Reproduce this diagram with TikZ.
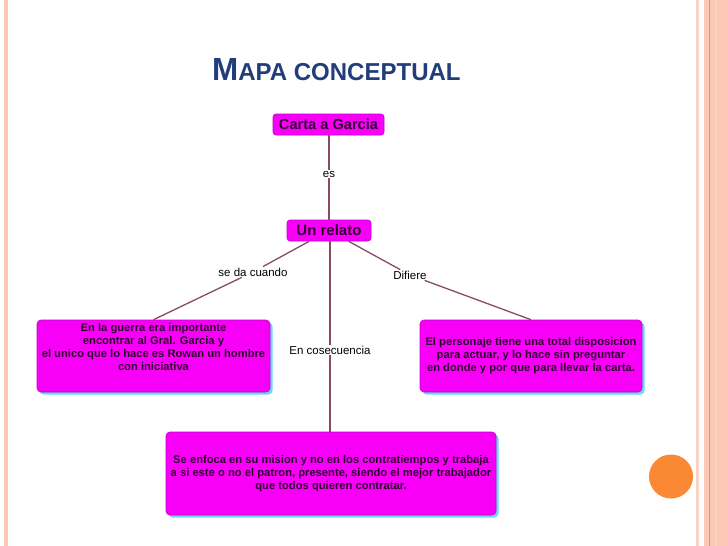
\documentclass[tikz,border=0pt]{standalone}
\usepackage{fontspec}
\setmainfont{Liberation Sans}
\usetikzlibrary{shadows}
\definecolor{mag}{HTML}{F800F8}
\definecolor{magb}{HTML}{C000C8}
\definecolor{shad}{HTML}{6AD8F2}
\definecolor{txt}{HTML}{30002F}
\definecolor{lnk}{HTML}{8A4A68}
\definecolor{ttl}{HTML}{213E7A}
\definecolor{pinkA}{HTML}{FBC8B6}
\definecolor{pinkB}{HTML}{F9D3C6}
\definecolor{orl}{HTML}{EE9060}
\definecolor{orc}{HTML}{FA8834}
\tikzset{
  smallbox/.style={fill=mag, draw=magb, line width=0.6pt, rounded corners=3pt, text=txt, font=\bfseries\fontsize{14.6}{16}\selectfont, inner sep=0pt, align=center},
  bigbox/.style={fill=mag, draw=magb, line width=0.6pt, rounded corners=4pt, text=txt, font=\bfseries\fontsize{11.2}{13}\selectfont, inner sep=0pt, align=center,
    drop shadow={shadow xshift=2.5pt, shadow yshift=-2.5pt, fill=shad, opacity=1}},
  lab/.style={font=\fontsize{11.5}{13}\selectfont, text=black, inner sep=1pt},
  link/.style={draw=lnk, line width=1.3pt}
}
\begin{document}
\begin{tikzpicture}[x=1pt,y=-1pt]
\useasboundingbox (0,0) rectangle (728,546);
\fill[white] (0,0) rectangle (728,546);
% borders
\fill[pinkA] (4,0) rectangle (8,546);
\fill[pinkB] (696,0) rectangle (698.5,546);
\fill[pinkA] (704,0) rectangle (728,546);
\fill[orl] (709,0) rectangle (710.3,546);
\fill[pinkB!80!pinkA] (715,0) rectangle (717,546);
% title
\node[anchor=base west, text=ttl, inner sep=0pt, font=\bfseries] (title) at (212,80)
  {\scalebox{0.98}[1]{\fontsize{32}{32}\selectfont M\fontsize{24.5}{24.5}\selectfont APA CONCEPTUAL}};
% orange circle
\fill[orc] (671,476.5) circle (22);
% nodes
\node[smallbox, minimum width=111pt, minimum height=21pt] (carta) at (328.5,124.5) {Carta a Garcia};
\node[smallbox, minimum width=84pt, minimum height=21pt, font=\bfseries\fontsize{15}{16}\selectfont] (relato) at (329,230.5) {Un relato};
\node[bigbox, minimum width=233pt, minimum height=72pt] (left) at (153.5,356)
  {En la guerra era importante\\encontrar al Gral. Garcia y\\el unico que lo hace es Rowan un hombre\\con iniciativa\\[6pt]};
\node[bigbox, minimum width=222pt, minimum height=72pt] (right) at (531,356)
  {El personaje tiene una total disposicion\\para actuar, y lo hace sin preguntar\\en donde y por que para llevar la carta.};
\node[bigbox, minimum width=330pt, minimum height=83pt] (bottom) at (331,473.5)
  {Se enfoca en su mision y no en los contratiempos y trabaja\\a si este o no el patron, presente, siendo el mejor trabajador\\que todos quieren contratar.};
% labels
\node[lab] (es) at (329,174) {es};
\node[lab] (seda) at (253,272) {se da cuando};
\node[lab] (dif) at (410,275) {Difiere};
\node[lab] (cons) at (330,350) {En cosecuencia};
% links
\draw[link] (carta.south -| es) -- (es);
\draw[link] (es) -- (relato.north -| es);
\draw[link] (relato) -- (seda);
\draw[link] (seda) -- (left.north);
\draw[link] (relato) -- (dif);
\draw[link] (dif) -- (right.north);
\draw[link] (relato.south -| cons) -- (cons);
\draw[link] (cons) -- (bottom.north -| cons);
\end{tikzpicture}
\end{document}
